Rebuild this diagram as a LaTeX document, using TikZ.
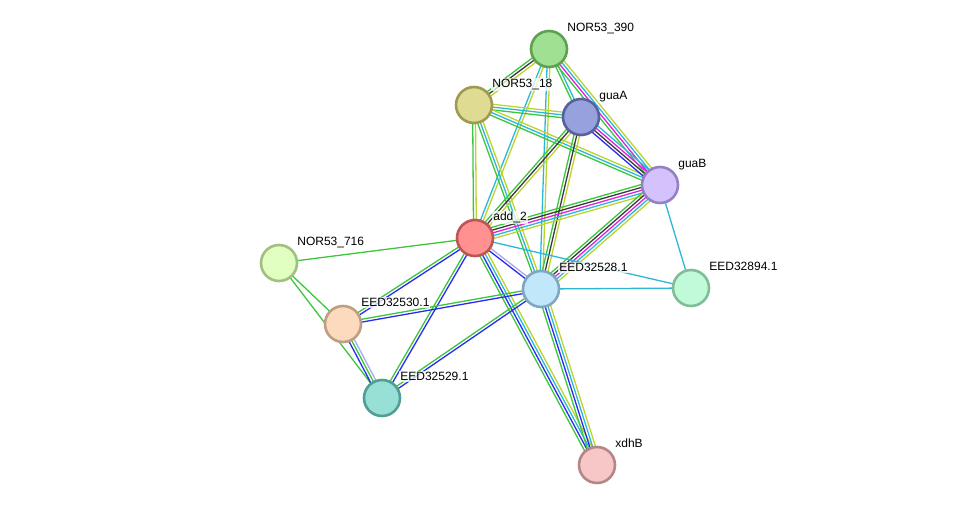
\documentclass[tikz,border=0pt]{standalone}
\usepackage{fontspec}
\setmainfont{Liberation Sans}
\usetikzlibrary{calc,backgrounds}

% evidence colours
\definecolor{nbh}{HTML}{3CC63C}
\definecolor{coocc}{HTML}{2A2AF5}
\definecolor{coexp}{HTML}{3A3A3A}
\definecolor{exper}{HTML}{E020E0}
\definecolor{db}{HTML}{2AB8D8}
\definecolor{txt}{HTML}{BCD42E}
\definecolor{homol}{HTML}{AAAAF2}

% one line per evidence colour, side by side
\newcommand\evlink[3]{%
  \foreach \c [count=\n] in {#3} {\xdef\nlines{\n}}%
  \foreach \c [count=\i] in {#3} {%
    \pgfmathsetlengthmacro\off{(\i-(\nlines+1)/2)*2.8pt}%
    \draw[ev, draw=\c] ($(#1)!\off!90:(#2)$) -- ($(#2)!\off!-90:(#1)$);
  }%
}

\begin{document}
\begin{tikzpicture}[
  x=1pt, y=-1pt,
  prot/.style={circle, minimum size=36pt, inner sep=0pt, line width=2.6pt},
  lbl/.style={font=\fontsize{12}{14}\selectfont, inner sep=1pt, fill=white,
              fill opacity=.75, text opacity=1, anchor=base west, label distance=5pt},
  ev/.style={line width=1.3pt}
]
\useasboundingbox (0,0) rectangle (975,511);

\node[prot, fill={rgb,255:red,160;green,224;blue,147}, draw={rgb,255:red,95;green,160;blue,82},
      label={[lbl]north east:NOR53\_390}] (n390) at (549,49) {};
\node[prot, fill={rgb,255:red,223;green,219;blue,147}, draw={rgb,255:red,158;green,154;blue,82},
      label={[lbl]north east:NOR53\_18}] (n18) at (474,105) {};
\node[prot, fill={rgb,255:red,151;green,161;blue,222}, draw={rgb,255:red,86;green,97;blue,158},
      label={[lbl]north east:guaA}] (guaA) at (581,117) {};
\node[prot, fill={rgb,255:red,211;green,194;blue,251}, draw={rgb,255:red,148;green,129;blue,197},
      label={[lbl]north east:guaB}] (guaB) at (660,185) {};
\node[prot, fill={rgb,255:red,255;green,145;blue,145}, draw={rgb,255:red,192;green,85;blue,85},
      label={[lbl]north east:add\_2}] (add2) at (475,238) {};
\node[prot, fill={rgb,255:red,224;green,255;blue,193}, draw={rgb,255:red,160;green,191;blue,128},
      label={[lbl]north east:NOR53\_716}] (n716) at (279,263) {};
\node[prot, fill={rgb,255:red,193;green,231;blue,251}, draw={rgb,255:red,127;green,168;blue,192},
      label={[lbl]north east:EED32528.1}] (e28) at (541,289) {};
\node[prot, fill={rgb,255:red,192;green,250;blue,217}, draw={rgb,255:red,127;green,190;blue,153},
      label={[lbl]north east:EED32894.1}] (e94) at (691,288) {};
\node[prot, fill={rgb,255:red,253;green,218;blue,189}, draw={rgb,255:red,190;green,159;blue,130},
      label={[lbl]north east:EED32530.1}] (e30) at (343,324) {};
\node[prot, fill={rgb,255:red,152;green,224;blue,214}, draw={rgb,255:red,81;green,158;blue,148},
      label={[lbl]north east:EED32529.1}] (e29) at (382,398) {};
\node[prot, fill={rgb,255:red,247;green,199;blue,199}, draw={rgb,255:red,179;green,135;blue,135},
      label={[lbl]north east:xdhB}] (xdhB) at (597,465) {};

\begin{scope}[on background layer]
\evlink{n390}{n18}{nbh,coexp,txt}
\evlink{n390}{guaA}{nbh,db}
\evlink{n390}{guaB}{nbh,exper,db,txt}
\evlink{n390}{add2}{db,txt}
\evlink{n390}{e28}{db,txt}
\evlink{n18}{guaA}{nbh,db,txt}
\evlink{n18}{guaB}{nbh,db,txt}
\evlink{n18}{add2}{nbh,txt}
\evlink{n18}{e28}{nbh,db,txt}
\evlink{guaA}{guaB}{coocc,coexp,exper,db}
\evlink{guaA}{add2}{nbh,coexp,txt}
\evlink{guaA}{e28}{nbh,coexp,txt}
\evlink{guaB}{add2}{nbh,coexp,exper,db,txt}
\evlink{guaB}{e28}{nbh,coexp,exper,db,txt}
\evlink{guaB}{e94}{db}
\evlink{add2}{e94}{db}
\evlink{add2}{e28}{coocc,homol}
\evlink{add2}{n716}{nbh}
\evlink{add2}{e30}{nbh,coocc}
\evlink{add2}{e29}{nbh,coocc}
\evlink{add2}{xdhB}{nbh,coocc,db,txt}
\evlink{e28}{e94}{db}
\evlink{e28}{e30}{nbh,coocc}
\evlink{e28}{e29}{nbh,coocc}
\evlink{e28}{xdhB}{nbh,coocc,db,txt}
\evlink{n716}{e30}{nbh}
\evlink{n716}{e29}{nbh}
\evlink{e30}{e29}{coocc,nbh,homol}
\end{scope}
\end{tikzpicture}
\end{document}
